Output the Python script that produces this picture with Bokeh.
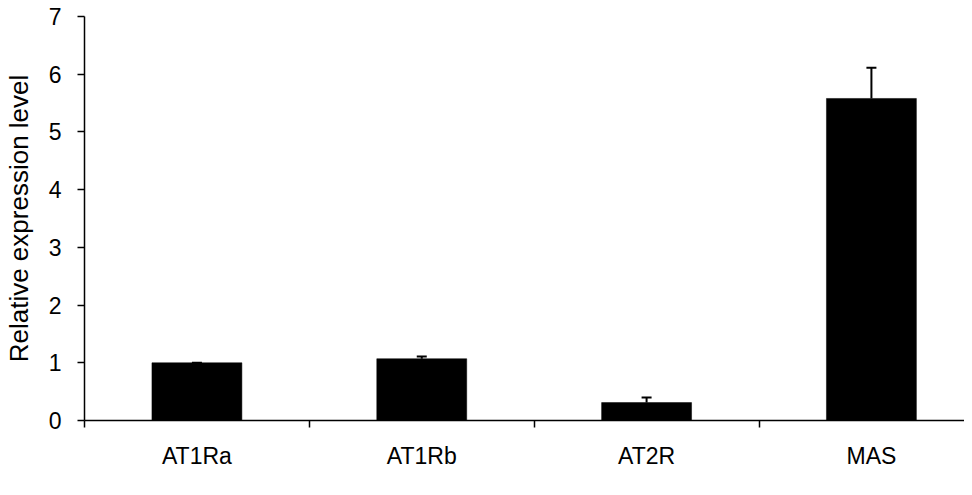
from bokeh.plotting import figure
from bokeh.models import ColumnDataSource, Range1d, FixedTicker, Whisker, TeeHead
from bokeh.embed import file_html
from bokeh.resources import INLINE

categories = ["AT1Ra", "AT1Rb", "AT2R", "MAS"]
values = [1.0, 1.07, 0.31, 5.58]
errors = [0.0, 0.04, 0.09, 0.53]
y_ticks = [0, 1, 2, 3, 4, 5, 6, 7]

centers = [i + 0.5 for i in range(len(categories))]
bounds = [float(i) for i in range(len(categories))]
src = ColumnDataSource(dict(
    x=centers,
    top=values,
    upper=[v + e for v, e in zip(values, errors)],
))

FONT = "Liberation Sans"

p = figure(width=964, height=487, output_backend="svg", toolbar_location=None,
           x_range=Range1d(0, 3.914), y_range=Range1d(0, 7),
           min_border_left=74, min_border_right=0, min_border_top=16,
           min_border_bottom=67)
p.outline_line_color = None
p.grid.grid_line_color = None

p.vbar(x="x", top="top", bottom=0, width=0.4, source=src,
       fill_color="black", line_color="black", line_width=0.5)

w = Whisker(base="x", lower="top", upper="upper", source=src,
            line_color="black", line_width=2,
            upper_head=TeeHead(size=10, line_color="black", line_width=2),
            lower_head=None, level="overlay")
p.add_layout(w)

# x axis
p.xaxis.ticker = FixedTicker(ticks=centers, minor_ticks=bounds)
p.xaxis.major_label_overrides = {c: lab for c, lab in zip(centers, categories)}
p.xaxis.major_tick_out = 0
p.xaxis.major_tick_in = 0
p.xaxis.minor_tick_out = 7
p.xaxis.minor_tick_in = 0
p.xaxis.minor_tick_line_color = "black"
p.xaxis.minor_tick_line_width = 1.5
p.xaxis.major_label_standoff = 15

# y axis
p.yaxis.ticker = FixedTicker(ticks=y_ticks)
p.yaxis.major_tick_out = 7
p.yaxis.major_tick_in = 0
p.yaxis.minor_tick_line_color = None
p.yaxis.major_label_standoff = 16
p.yaxis.axis_label = "Relative expression level"
p.yaxis.axis_label_standoff = 12

for ax in (p.xaxis, p.yaxis):
    ax.axis_line_color = "black"
    ax.axis_line_width = 1.5
    ax.major_tick_line_color = "black"
    ax.major_tick_line_width = 1.5
    ax.major_label_text_font = FONT
    ax.major_label_text_font_size = "23px"
    ax.major_label_text_color = "black"
    ax.axis_label_text_font = FONT
    ax.axis_label_text_font_size = "26px"
    ax.axis_label_text_font_style = "normal"
    ax.axis_label_text_color = "black"

open("out.html", "w").write(file_html(p, INLINE))
